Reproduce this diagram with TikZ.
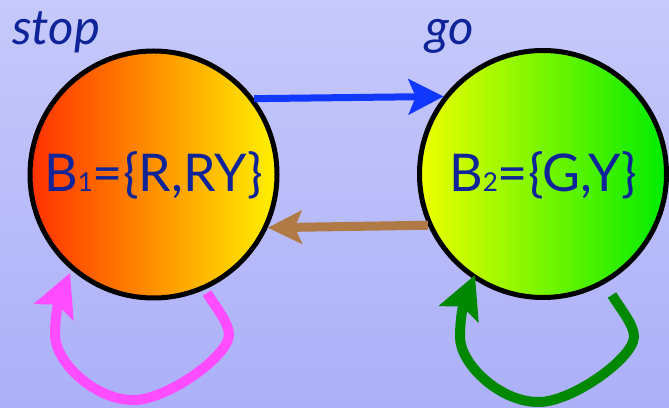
\documentclass[tikz,border=0pt]{standalone}
\usepackage{fontspec}
\setmainfont{Lato}
\usetikzlibrary{arrows.meta}
\definecolor{bgtop}{RGB}{198,201,250}
\definecolor{bgbot}{RGB}{172,176,248}
\definecolor{txtblue}{RGB}{14,36,152}
\definecolor{lred}{RGB}{255,48,0}
\definecolor{lorange}{RGB}{255,160,0}
\definecolor{lyellow}{RGB}{255,242,0}
\definecolor{ryellow}{RGB}{240,255,0}
\definecolor{rlime}{RGB}{150,255,0}
\definecolor{rgreen}{RGB}{0,236,0}
\definecolor{arrblue}{RGB}{16,56,255}
\definecolor{arrbrown}{RGB}{176,122,70}
\definecolor{looppink}{RGB}{255,76,255}
\definecolor{loopgreen}{RGB}{0,136,0}
\begin{document}
\begin{tikzpicture}[x=1pt,y=1pt,
  state/.style={circle, draw=black, line width=5pt, minimum size=247pt,
    inner sep=0pt, outer sep=2.5pt, text=txtblue,
    font=\fontsize{52}{52}\selectfont, text height=45pt, text depth=10pt},
  tag/.style={text=txtblue, font=\itshape\fontsize{49}{49}\selectfont,
    inner sep=0pt, anchor=base west},
  straightarrow/.style={line width=#1},
  loop/.style={line width=10pt, line cap=butt, line join=round,
    -{Stealth[length=42pt,width=42pt,inset=8pt]}}]
\newcommand{\subsc}[1]{{\fontsize{26}{26}\selectfont #1}}
\useasboundingbox (0,0) rectangle (669,407);
\shade[top color=bgtop, bottom color=bgbot] (0,0) rectangle (669,407);

\node[state, left color=lred, middle color=lorange, right color=lyellow]
  (L) at (153.5,232.5) {B\subsc{1}=\{R,RY\}};
\node[state, left color=ryellow, middle color=rlime, right color=rgreen]
  (R) at (543,233) {B\subsc{2}=\{G,Y\}};

\node[tag] (stop) at (12,362) {stop};
\node[tag] (go) at (425,362) {go};

\draw[straightarrow=7pt, draw=arrblue, -{Stealth[length=35pt,width=35pt,inset=7pt]}, arrblue]
  (L.37) -- (R.142.4);
\draw[straightarrow=9pt, draw=arrbrown, -{Stealth[length=34pt,width=33pt,inset=7pt]}, arrbrown]
  (R.204.6) -- (L.-25.5);

\coordinate (ps) at (207,114);
\coordinate (pt) at (70,134);
\draw[loop, draw=looppink, looppink]
  (ps) .. controls (217,98) and (229,84) .. (229,72)
  .. controls (228,50) and (165,6) .. (133,7)
  .. controls (95,7) and (55,45) .. (55,72)
  .. controls (55,95) and (60,110) .. (pt);

\coordinate (gs) at (612,112);
\coordinate (gt) at (475,132);
\draw[loop, draw=loopgreen, loopgreen]
  (gs) .. controls (622,96) and (634,82) .. (634,70)
  .. controls (633,48) and (570,4) .. (538,5)
  .. controls (500,5) and (460,43) .. (460,70)
  .. controls (460,93) and (465,108) .. (gt);
\end{tikzpicture}
\end{document}
